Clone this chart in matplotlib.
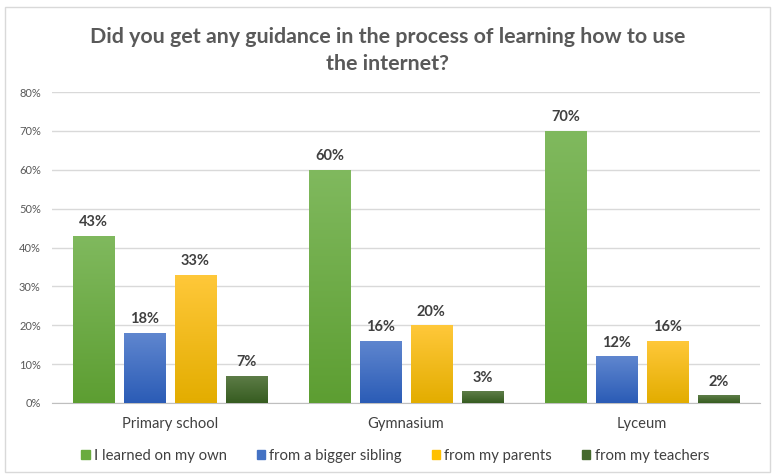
import numpy as np
import matplotlib.pyplot as plt
from matplotlib.patches import Rectangle
from matplotlib.colors import LinearSegmentedColormap

plt.rcParams['font.family'] = ['Lato', 'DejaVu Sans']

categories = ["Primary school", "Gymnasium", "Lyceum"]
series = ["I learned on my own", "from a bigger sibling", "from my parents", "from my teachers"]
own = [43, 60, 70]
sibling = [18, 16, 12]
parents = [33, 20, 16]
teachers = [7, 3, 2]
values = [own, sibling, parents, teachers]

# (top, bottom) shades for the vertical gradient of each series
shades = [("#80b95e", "#5d9e32"),
          ("#5f86cf", "#2b5cb6"),
          ("#ffc83a", "#e3ad00"),
          ("#5e7d48", "#365c20")]
legend_colors = ["#6aab3f", "#4472c4", "#ffc000", "#44692c"]

fig = plt.figure(figsize=(7.75, 4.74), dpi=100)
ax = fig.add_axes([0.067, 0.1498, 0.9135, 0.656])

x = np.arange(len(categories))
width = 0.174
pitch = 0.216

for i, (vals, (top, bot)) in enumerate(zip(values, shades)):
    cmap = LinearSegmentedColormap.from_list("g%d" % i, [bot, top])
    offs = (i - 1.5) * pitch
    bars = ax.bar(x + offs, [v / 100 for v in vals], width, color="none",
                  label=series[i], zorder=3)
    for b, v in zip(bars, vals):
        x0, y0 = b.get_x(), b.get_y()
        h = b.get_height()
        grad = np.linspace(0, 1, 100).reshape(-1, 1)
        im = ax.imshow(grad, cmap=cmap, origin="lower", aspect="auto",
                       extent=[x0, x0 + width, y0, y0 + h], zorder=3)
        im.set_clip_path(b)
        ax.text(x0 + width / 2, h + 0.017, "%d%%" % v, ha="center", va="bottom",
                fontsize=10.5, fontweight="bold", color="#404040", zorder=4)

ax.set_xlim(-0.5, 2.5)
ax.set_ylim(0, 0.8)
ax.set_yticks(np.arange(0, 0.81, 0.1))
ax.set_yticklabels(["%d%%" % t for t in range(0, 81, 10)], fontsize=8, color="#595959")
ax.set_xticks(x)
ax.set_xticklabels(categories, fontsize=10.6, color="#404040")
ax.tick_params(axis="both", length=0, pad=8)
ax.tick_params(axis="x", pad=10)
ax.grid(axis="y", color="#d9d9d9", linewidth=1, zorder=0)
for s in ["top", "right", "left"]:
    ax.spines[s].set_visible(False)
ax.spines["bottom"].set_color("#bfbfbf")

fig.text(0.5, 0.894, "Did you get any guidance in the process of learning how to use\nthe internet?",
         ha="center", va="center", fontsize=15.4, fontweight="bold", color="#595959",
         linespacing=1.42)

handles = [Rectangle((0, 0), 1, 1, color=c) for c in legend_colors]
fig.legend(handles, series, loc="center", bbox_to_anchor=(0.51, 0.038), ncol=4,
           frameon=False, fontsize=10.7, handlelength=0.55, handleheight=0.55,
           handletextpad=0.3, columnspacing=2.0, labelcolor="#404040")

fig.patches.append(Rectangle((0.006, 0.005), 0.988, 0.98, transform=fig.transFigure,
                             fill=False, edgecolor="#d9d9d9", linewidth=1))

fig.savefig("out.png", dpi=100)
